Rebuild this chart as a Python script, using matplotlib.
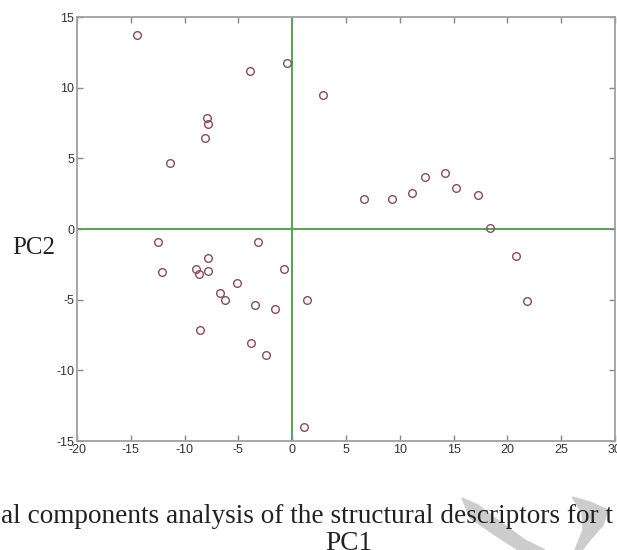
#!/usr/bin/env python3
import matplotlib
matplotlib.use("Agg")
import matplotlib.pyplot as plt
from matplotlib.patches import Polygon

plt.rcParams["axes.unicode_minus"] = False
plt.rcParams["font.family"] = ["Liberation Sans", "DejaVu Sans"]

# PCA scores
pc1 = [-14.4, -0.5, -3.9, -7.9, -7.8, -8.15, -11.4,
       2.9, 6.7, 9.3, 11.1, 12.3, 14.2, 15.2, 17.3, 18.4,
       -12.5, -3.2, -7.8, -12.1, -8.9, -8.7, -7.8, -0.8, -5.1, -6.7,
       -6.2, -3.5, -1.6, 1.4, -8.6, -3.8, -2.4, 1.1,
       20.8, 21.8]
pc2 = [13.7, 11.75, 11.2, 7.85, 7.45, 6.45, 4.65,
       9.45, 2.1, 2.1, 2.55, 3.65, 3.95, 2.9, 2.4, 0.05,
       -0.9, -0.95, -2.05, -3.05, -2.85, -3.2, -3.0, -2.85, -3.85, -4.5,
       -5.0, -5.35, -5.65, -5.0, -7.15, -8.1, -8.9, -14.0,
       -1.9, -5.1]

xticks = [-20, -15, -10, -5, 0, 5, 10, 15, 20, 25, 30]
yticks = [-15, -10, -5, 0, 5, 10, 15]

caption = "al components analysis of the structural descriptors for t"

W, H = 617, 550
fig = plt.figure(figsize=(W / 100, H / 100), dpi=100)

# watermark swooshes behind everything
wm = "#cdcdcd"
fig.patches.append(Polygon(
    [(462 / W, 1 - 498 / H), (478 / W, 1 - 505 / H), (500 / W, 1 - 522 / H),
     (525 / W, 1 - 540 / H), (545 / W, 1 - 550 / H), (518 / W, 1 - 550 / H),
     (495 / W, 1 - 535 / H), (470 / W, 1 - 518 / H)],
    closed=True, transform=fig.transFigure, color=wm, zorder=0))
fig.patches.append(Polygon(
    [(572 / W, 1 - 497 / H), (590 / W, 1 - 502 / H), (608 / W, 1 - 510 / H),
     (603 / W, 1 - 525 / H), (590 / W, 1 - 540 / H), (582 / W, 1 - 550 / H),
     (575 / W, 1 - 550 / H), (583 / W, 1 - 530 / H), (582 / W, 1 - 512 / H)],
    closed=True, transform=fig.transFigure, color=wm, zorder=0))

ax = fig.add_axes([77 / W, 1 - 441 / H, (615 - 77) / W, (441 - 17) / H])
ax.set_facecolor("none")

ax.axhline(0, color="#4fa64f", lw=1.4, zorder=1)
ax.axvline(0, color="#4fa64f", lw=1.4, zorder=1)
ax.plot(pc1, pc2, linestyle="none", marker="o", markersize=5.5,
        markerfacecolor="none", markeredgecolor="#8a4a5a",
        markeredgewidth=1.0, zorder=3)

ax.set_xlim(-20, 30)
ax.set_ylim(-15, 15)
ax.set_xticks(xticks)
ax.set_yticks(yticks)
ax.tick_params(direction="in", length=4, width=1, color="#888888",
               top=True, right=True, labelsize=9, labelcolor="#333333",
               pad=2)
for s in ax.spines.values():
    s.set_color("#a0a0a0")
    s.set_linewidth(1.3)

fig.text(34 / W, 1 - 248 / H, "PC2", family="Liberation Serif", fontsize=18,
         ha="center", va="center", color="#222222")
fig.text(1 / W, 1 - 523 / H, caption, family="Liberation Serif", fontsize=19.6,
         ha="left", va="baseline", color="#222222")
fig.text(349 / W, 1 - 550 / H, "PC1", family="Liberation Serif", fontsize=19.6,
         ha="center", va="baseline", color="#222222")

fig.savefig("out.png", dpi=100)
